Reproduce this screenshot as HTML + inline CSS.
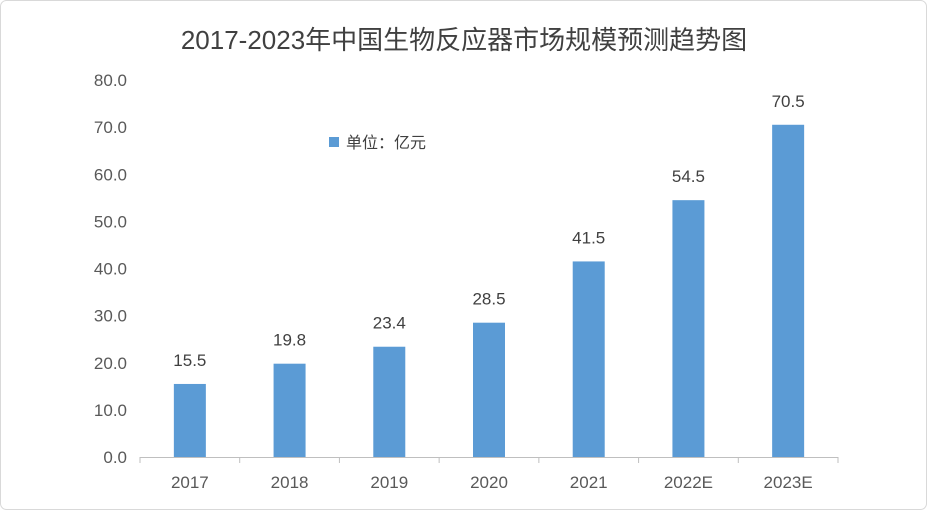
<!DOCTYPE html>
<html><head><meta charset="utf-8">
<style>
html,body{margin:0;padding:0;background:#fff;}
body{width:928px;height:511px;overflow:hidden;font-family:"Liberation Sans","Noto Sans CJK SC",sans-serif;}
</style></head>
<body>
<svg id="chart" width="928" height="511" xmlns="http://www.w3.org/2000/svg" font-family="Liberation Sans, Noto Sans CJK SC, sans-serif">
<rect x="0.5" y="0.5" width="926" height="509" rx="6" fill="#fff" stroke="#d9d9d9"/>
<text x="464" y="49" text-anchor="middle" font-size="26" fill="#404040">2017-2023年中国生物反应器市场规模预测趋势图</text>
<g id="yaxis"></g>
<g id="xaxis"></g>
<g id="bars"></g>
<g>
<rect x="329" y="137" width="10" height="10" fill="#5b9bd5"/>
<text x="346" y="148" font-size="16" fill="#404040">单位：亿元</text>
</g>
</svg>
<script>
const categories=["2017","2018","2019","2020","2021","2022E","2023E"];
const values=[15.5,19.8,23.4,28.5,41.5,54.5,70.5];
const valueLabels=["15.5","19.8","23.4","28.5","41.5","54.5","70.5"];
const yTicks=[0,10,20,30,40,50,60,70,80];
const yTickLabels=["0.0","10.0","20.0","30.0","40.0","50.0","60.0","70.0","80.0"];
const NS="http://www.w3.org/2000/svg";
const x0=140,x1=838,yBase=457,yTop=80,yMax=80;
const y=v=>yBase-(v/yMax)*(yBase-yTop);
const band=(x1-x0)/categories.length;
const xc=i=>x0+band*(i+0.5);
function mk(tag,attrs,parent){const e=document.createElementNS(NS,tag);for(const k in attrs)e.setAttribute(k,attrs[k]);parent.appendChild(e);return e;}
const ya=document.getElementById('yaxis'),xa=document.getElementById('xaxis'),bg=document.getElementById('bars');
yTicks.forEach((t,i)=>{
 const tx=mk('text',{x:127,y:y(t)+6,'text-anchor':'end','font-size':'17',fill:'#595959'},ya);
 
 
 tx.textContent=yTickLabels[i];
});
const ax=mk('line',{x1:x0,x2:x1,y1:yBase+0.5,y2:yBase+0.5,stroke:'#bfbfbf'},xa);


for(let i=0;i<=categories.length;i++){
 const tk=mk('line',{x1:x0+band*i,x2:x0+band*i,y1:yBase,y2:yBase+6,stroke:'#bfbfbf'},xa);
 
 
}
categories.forEach((c,i)=>{
 const t=mk('text',{x:xc(i),y:488,'text-anchor':'middle','font-size':'17',fill:'#595959'},xa);
 
 
 t.textContent=c;
 const bw=32;
 const r=mk('rect',{x:xc(i)-bw/2,y:y(values[i]),width:bw,height:yBase-y(values[i]),fill:'#5b9bd5'},bg);
 
 
 const l=mk('text',{x:xc(i),y:y(values[i])-18,'text-anchor':'middle','font-size':'17',fill:'#404040'},bg);
 
 
 l.textContent=valueLabels[i];
});
</script>
</body></html>
